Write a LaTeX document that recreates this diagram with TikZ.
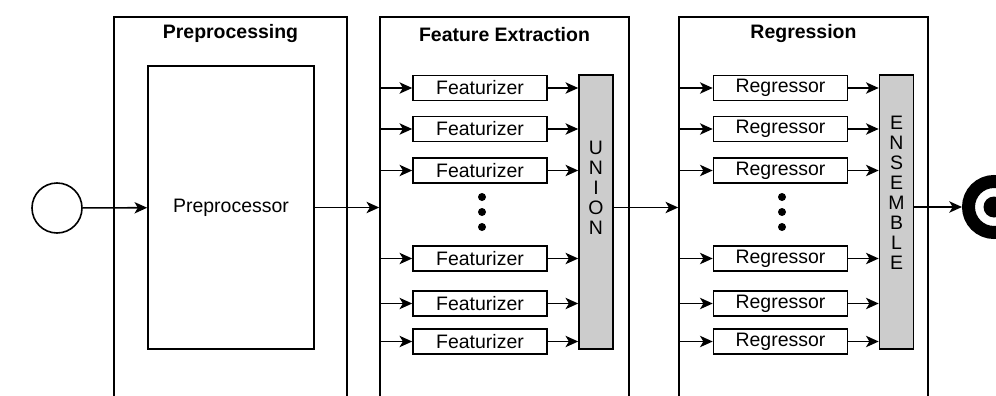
\documentclass[tikz,border=0pt]{standalone}
\usepackage{fontspec}
\setmainfont{Liberation Sans}
\usetikzlibrary{positioning,arrows.meta}

\begin{document}
\begin{tikzpicture}[
  x=0.75pt, y=-0.75pt,
  font=\fontsize{14.6pt}{15pt}\selectfont,
  stage/.style={rectangle, draw=black, line width=1.2pt, minimum width=#1, minimum height=303pt, anchor=north, inner sep=0pt},
  stagetitle/.style={font=\fontsize{14.6pt}{15pt}\selectfont\bfseries, inner sep=0pt},
  unit/.style={rectangle, draw=black, line width=1.2pt, minimum width=100.5pt, minimum height=18.75pt, inner sep=0pt},
  bar/.style={rectangle, draw=black, fill=gray!40, line width=1.2pt, minimum width=25.5pt, minimum height=205.5pt, inner sep=0pt},
  barlabel/.style={align=center, inner sep=0pt},
  dot/.style={circle, fill=black, minimum size=6pt, inner sep=0pt},
  arrow/.style={-{Stealth[length=9.5pt, width=8.5pt, inset=2.5pt]}, line width=1.2pt},
]
  \clip (0,0) rectangle (996,396);

  % containers
  \node[stage=174.75pt] (pp) at (230.5,16) {};
  \node[stage=186.75pt] (fe) at (504.5,16) {};
  \node[stage=186.75pt] (rg) at (803.5,16) {};
  \node[stagetitle] (ppt) at (230.5,34) {Preprocessing};
  \node[stagetitle] (fet) at (504.5,35) {Feature Extraction};
  \node[stagetitle] (rgt) at (803.5,34) {Regression};

  % start and preprocessor
  \node[circle, draw=black, line width=1.2pt, minimum size=37.5pt, inner sep=0pt] (start) at (57,208) {};
  \node[rectangle, draw=black, line width=1.2pt, minimum width=124.5pt, minimum height=212.25pt, inner sep=0pt] (pre) at (231,207.5) {Preprocessor};

  \draw[arrow] (start) -- (pre);
  \draw[arrow] (pre.east) -- (pre.east -| fe.west);

  % featurizers
  \node[unit] (f1) at (480,88) {Featurizer};
  \node[unit] (f2) at (480,129) {Featurizer};
  \node[unit] (f3) at (480,170.5) {Featurizer};
  \node[unit] (f4) at (480,258.5) {Featurizer};
  \node[unit] (f5) at (480,303.5) {Featurizer};
  \node[unit] (f6) at (480,341.5) {Featurizer};
  \node[dot] (fd1) at (482,197) {};
  \node[dot] (fd2) at (482,212) {};
  \node[dot] (fd3) at (482,227) {};

  \node[bar] (union) at (596,212) {};
  \node[barlabel] (unionlbl) at (596,188) {U\\N\\I\\O\\N};

  \draw[arrow] (fe.west |- f1) -- (f1);
  \draw[arrow] (fe.west |- f2) -- (f2);
  \draw[arrow] (fe.west |- f3) -- (f3);
  \draw[arrow] (fe.west |- f4) -- (f4);
  \draw[arrow] (fe.west |- f5) -- (f5);
  \draw[arrow] (fe.west |- f6) -- (f6);
  \draw[arrow] (f1) -- (union.west |- f1);
  \draw[arrow] (f2) -- (union.west |- f2);
  \draw[arrow] (f3) -- (union.west |- f3);
  \draw[arrow] (f4) -- (union.west |- f4);
  \draw[arrow] (f5) -- (union.west |- f5);
  \draw[arrow] (f6) -- (union.west |- f6);

  \draw[arrow] (union.east |- pre.east) -- (rg.west |- pre.east);

  % regressors
  \node[unit] (r1) at (780.5,88) {Regressor};
  \node[unit] (r2) at (780.5,129) {Regressor};
  \node[unit] (r3) at (780.5,170.5) {Regressor};
  \node[unit] (r4) at (780.5,258.5) {Regressor};
  \node[unit] (r5) at (780.5,303.5) {Regressor};
  \node[unit] (r6) at (780.5,341.5) {Regressor};
  \node[dot] (rd1) at (782,197) {};
  \node[dot] (rd2) at (782,212) {};
  \node[dot] (rd3) at (782,227) {};

  \node[bar] (ens) at (896.5,212) {};
  \node[barlabel] (enslbl) at (896.5,193) {E\\N\\S\\E\\M\\B\\L\\E};

  \draw[arrow] (rg.west |- r1) -- (r1);
  \draw[arrow] (rg.west |- r2) -- (r2);
  \draw[arrow] (rg.west |- r3) -- (r3);
  \draw[arrow] (rg.west |- r4) -- (r4);
  \draw[arrow] (rg.west |- r5) -- (r5);
  \draw[arrow] (rg.west |- r6) -- (r6);
  \draw[arrow] (r1) -- (ens.west |- r1);
  \draw[arrow] (r2) -- (ens.west |- r2);
  \draw[arrow] (r3) -- (ens.west |- r3);
  \draw[arrow] (r4) -- (ens.west |- r4);
  \draw[arrow] (r5) -- (ens.west |- r5);
  \draw[arrow] (r6) -- (ens.west |- r6);

  % end state
  \node[circle, draw=black, line width=9.75pt, outer sep=4.875pt, minimum size=38.25pt, inner sep=0pt] (target) at (994,207) {};
  \node[circle, fill=black, minimum size=15.75pt, inner sep=0pt] (targetdot) at (target.center) {};
  \draw[arrow] (ens.east |- target) -- (target);
\end{tikzpicture}
\end{document}
